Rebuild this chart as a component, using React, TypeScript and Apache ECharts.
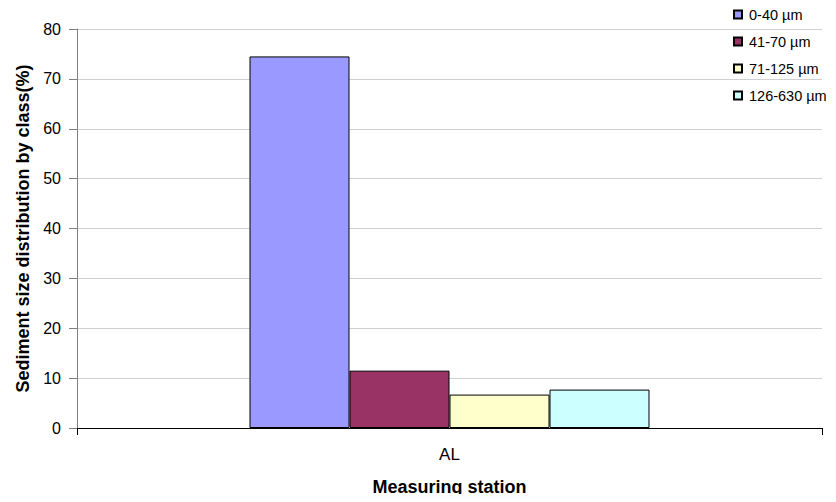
import React, { useEffect, useRef } from "react";
import * as echarts from "echarts";

const categories = ["AL"];
const seriesNames = ["0-40 µm", "41-70 µm", "71-125 µm", "126-630 µm"];
const seriesValues = [[74.5], [11.5], [6.7], [7.7]];
const seriesColors = ["#9999FF", "#993366", "#FFFFCC", "#CCFFFF"];
const yTicks = { min: 0, max: 80, interval: 10 };

export default function App() {
  const ref = useRef<HTMLDivElement>(null);
  useEffect(() => {
    const chart = echarts.init(ref.current!, null, { renderer: "svg" });
    chart.setOption({
      animation: false,
      backgroundColor: "#fff",
      textStyle: { fontFamily: "Liberation Sans, Arial, sans-serif" },
      grid: { left: 77, right: 14, top: 29, bottom: 74, containLabel: false },
      legend: {
        orient: "vertical",
        left: 733,
        top: 6,
        padding: 0,
        icon: "rect",
        itemWidth: 8,
        itemHeight: 8,
        itemGap: 10,
        textStyle: { fontSize: 14.5, lineHeight: 17, color: "#000", padding: [0, 0, 0, 2] },
        data: seriesNames,
      },
      xAxis: {
        type: "category",
        data: categories,
        name: "Measuring station",
        nameLocation: "middle",
        nameGap: 50,
        nameTextStyle: { fontWeight: "bold", fontSize: 18, color: "#000" },
        axisLine: { lineStyle: { color: "#000", width: 1 } },
        axisTick: { show: true, length: 7, lineStyle: { color: "#000" } },
        axisLabel: { fontSize: 17, color: "#000", margin: 18 },
      },
      yAxis: {
        type: "value",
        min: yTicks.min,
        max: yTicks.max,
        interval: yTicks.interval,
        name: "Sediment size distribution by class(%)",
        nameLocation: "middle",
        nameGap: 44,
        nameTextStyle: { fontWeight: "bold", fontSize: 18, color: "#000" },
        axisLine: { show: true, lineStyle: { color: "#808080", width: 1 } },
        axisTick: { show: true, length: 8, lineStyle: { color: "#808080" } },
        axisLabel: { fontSize: 16, color: "#000", margin: 16 },
        splitLine: { lineStyle: { color: "#d0d0d0", width: 1 } },
      },
      series: seriesNames.map((name, i) => ({
        name,
        type: "bar",
        data: seriesValues[i],
        barWidth: 100,
        barGap: "0%",
        itemStyle: { color: seriesColors[i], borderColor: "#000", borderWidth: 1 },
      })),
    });
    return () => chart.dispose();
  }, []);
  return <div ref={ref} style={{ width: 836, height: 502, margin: -8 }} />;
}
